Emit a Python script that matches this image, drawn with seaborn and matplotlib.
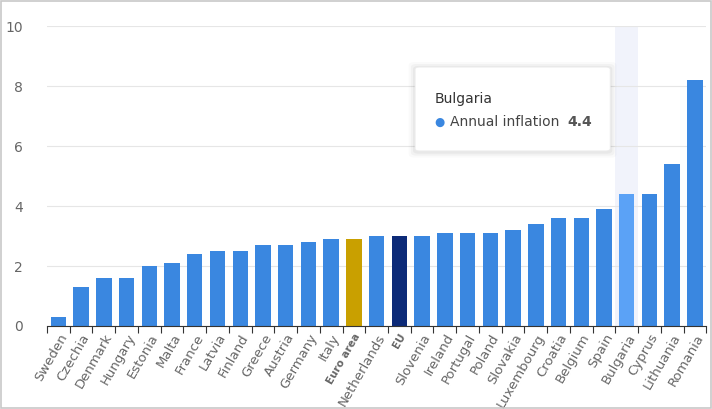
import matplotlib
matplotlib.use("Agg")
import matplotlib.pyplot as plt
from matplotlib.patches import FancyBboxPatch, Rectangle
import seaborn as sns
import pandas as pd
import numpy as np

countries = ["Sweden", "Czechia", "Denmark", "Hungary", "Estonia", "Malta", "France",
             "Latvia", "Finland", "Greece", "Austria", "Germany", "Italy", "Euro area",
             "Netherlands", "EU", "Slovenia", "Ireland", "Portugal", "Poland", "Slovakia",
             "Luxembourg", "Croatia", "Belgium", "Spain", "Bulgaria", "Cyprus",
             "Lithuania", "Romania"]
inflation = [0.3, 1.3, 1.6, 1.6, 2.0, 2.1, 2.4, 2.5, 2.5, 2.7, 2.7, 2.8, 2.9, 2.9,
             3.0, 3.0, 3.0, 3.1, 3.1, 3.1, 3.2, 3.4, 3.6, 3.6, 3.9, 4.4, 4.4, 5.4, 8.2]
hovered = "Bulgaria"

base = "#3a87e0"
special = {"Euro area": "#c9a000", "EU": "#0c2a78", "Bulgaria": "#5ba2f6"}
palette = {c: special.get(c, base) for c in countries}

df = pd.DataFrame({"country": countries, "inflation": inflation})

fig = plt.figure(figsize=(7.12, 4.09), dpi=100)
ax = fig.add_axes([0.066, 0.203, 0.926, 0.733])

hi = countries.index(hovered)
ax.axvspan(hi - 0.5, hi + 0.5, color="#f1f3fb", zorder=0, lw=0)

sns.barplot(data=df, x="country", y="inflation", hue="country", palette=palette,
            order=countries, width=0.68, legend=False, ax=ax, zorder=2, saturation=1)

ax.set_ylim(0, 10)
ax.set_xlim(-0.5, len(countries) - 0.5)
ax.set_yticks(range(0, 11, 2))
ax.grid(axis="y", color="#e6e6e6", lw=0.8, zorder=1)
ax.set_axisbelow(True)
for s in ["top", "right", "left"]:
    ax.spines[s].set_visible(False)
ax.spines["bottom"].set_color("#333333")
ax.spines["bottom"].set_linewidth(0.8)
ax.set_xlabel("")
ax.set_ylabel("")
ax.tick_params(axis="y", length=0, labelsize=10, labelcolor="#666666", pad=17.5)

ax.set_xticks(range(len(countries)))
ax.set_xticklabels(countries, rotation=60, ha="right", rotation_mode="anchor",
                   fontsize=9.5, color="#666666")
ax.tick_params(axis="x", length=0, pad=4)
for t in ax.get_xticklabels():
    if t.get_text() in ("Euro area", "EU"):
        t.set_fontweight("bold")
        t.set_fontsize(7.5)
ax.set_xticks(np.arange(-0.5, len(countries), 1), minor=True)
ax.tick_params(axis="x", which="minor", length=5, color="#333333", width=0.8)

# tooltip with a soft shadow
for i, a in enumerate([0.04, 0.03, 0.02]):
    d = 0.003 * (i + 1)
    fig.patches.append(FancyBboxPatch((0.583 - d, 0.629 - d * 1.6), 0.274 + 2 * d,
                                      0.205 + 2 * d * 1.6, transform=fig.transFigure,
                                      boxstyle="round,pad=0,rounding_size=0.008",
                                      facecolor="black", alpha=a, lw=0, zorder=9))
tip = FancyBboxPatch((0.583, 0.631), 0.274, 0.205, transform=fig.transFigure,
                     boxstyle="round,pad=0,rounding_size=0.006", facecolor="white",
                     edgecolor="#ececec", lw=0.6, zorder=10)
fig.patches.append(tip)
fig.text(0.611, 0.748, hovered, fontsize=10, color="#333333", zorder=11)
fig.text(0.610, 0.693, "\u25CF", fontsize=8.5, color=base, zorder=11)
fig.text(0.632, 0.692, "Annual inflation", fontsize=10, color="#444444", zorder=11)
fig.text(0.797, 0.692, f"{inflation[hi]}", fontsize=10, color="#555555",
         fontweight="bold", zorder=11)

fig.patches.append(Rectangle((0.001, 0.002), 0.997, 0.996, transform=fig.transFigure,
                             fill=False, edgecolor="#c8c8c8", lw=1.2))

fig.savefig("out.png", dpi=100)
